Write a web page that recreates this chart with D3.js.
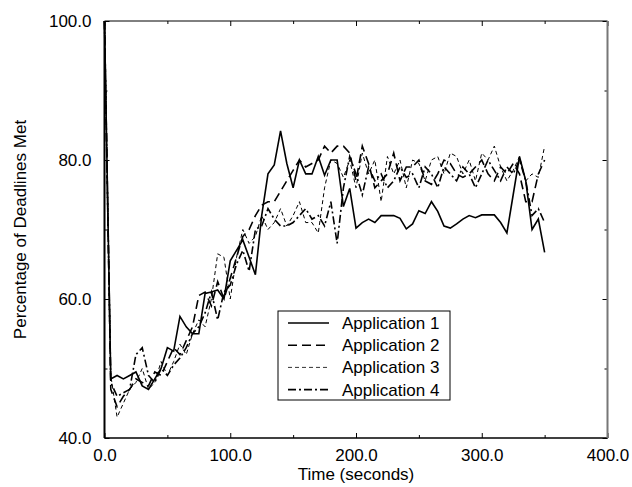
<html>
<head>
<style>
  body { margin: 0; background: #fff; }
  text { font-family: "Liberation Sans", Arial, sans-serif; font-size: 17px; fill: #000; }
  .line { fill: none; stroke: #000; }
</style>
</head>
<body>
<svg id="chart" width="632" height="487"></svg>
<script src="https://d3js.org/d3.v7.min.js"></script>
<script>
// time axis (seconds)
let times = d3.range(0, 351, 5)

let app1 = [100, 48.5, 49, 48.5, 49, 49.5, 47.5, 47, 48.5, 50,
            53, 52.5, 57.5, 56, 55, 55, 60.8, 61, 61.3, 60,
            65.5, 67, 68.5, 66, 63.5, 72, 78, 79.3, 84.2, 79.5,
            76, 80, 78, 78, 80.5, 77.8, 80, 80, 73.3, 75.9,
            70.2, 71, 71.5, 71, 72, 72, 72, 71.6, 70.1, 70.8,
            72.7, 72.3, 74, 72.6, 70.5, 70.2, 70.8, 71.5, 72, 71.7,
            72.1, 72.1, 72.1, 71, 69.5, 75, 80.5, 77, 70, 71.5, 66.7]

let app2 = [100, 47, 44.5, 46, 47, 48.5, 48, 47.5, 49.5, 49,
            51, 53, 52, 54, 56, 60.5, 61, 59, 62.5, 60,
            63, 66, 69, 70, 72, 73.5, 74, 74, 75.5, 77,
            78.5, 80, 79, 79.5, 80, 82, 81, 82, 82, 81,
            77, 82, 79.5, 76, 77, 78, 81, 77, 79, 79,
            80, 77, 76.5, 78, 80, 79.5, 78, 77.5, 78, 79,
            80, 78, 77, 79, 78, 79.5, 78, 74, 74, 78, 80]

let app3 = [100, 49, 43, 45, 47, 48, 50, 47, 48, 51,
            49, 51, 53.5, 52, 55, 57, 56, 60, 66.5, 66,
            60, 66, 70, 68, 69, 72, 70, 71, 73, 70.5,
            72, 74, 71, 71, 69.5, 76, 80, 79.5, 77.5, 80,
            76, 81, 78, 80, 74, 80.5, 78, 80, 76, 80,
            79.5, 77, 80, 80.5, 78, 81, 80.5, 78, 80, 77,
            81, 80, 82, 79, 77, 78.5, 80.5, 77, 78, 77.5, 82]

let app4 = [100, 48, 46, 46.5, 47, 52, 53, 49, 48, 50,
            49, 50.5, 51.5, 53, 55, 56, 58, 61, 57, 61,
            62, 65, 67, 64, 70, 70.5, 73, 71.5, 70.5, 70.5,
            71, 72, 73, 71.5, 72, 70.5, 74, 68, 76, 80.5,
            78, 75, 79, 77, 78, 76, 77, 79, 77.5, 78,
            76, 79, 78, 76, 79, 78, 77, 79, 78, 76,
            78, 80, 78.5, 77, 79, 78, 80, 77, 72, 73, 71]

let seriesNames = ["Application 1", "Application 2", "Application 3", "Application 4"]
let seriesValues = [app1, app2, app3, app4]

let xTicks = [0, 100, 200, 300, 400]
let yTicks = [40, 60, 80, 100]

let styles = [
  {dash: null, width: 1.6, color: "#000"},
  {dash: "9,5", width: 1.6, color: "#000"},
  {dash: "4,3", width: 1, color: "#333"},
  {dash: "8,3,2,3", width: 1.6, color: "#000"}
]

let svg = d3.select("#chart")
let plotLeft = 104.5, plotTop = 21, plotRight = 607.5, plotBottom = 438

let xScale = d3.scaleLinear().domain([0, 400]).range([plotLeft, plotRight])
let yScale = d3.scaleLinear().domain([40, 100]).range([plotBottom, plotTop])

// minor ticks (inward, all four sides)
let fmt = d3.format(".1f")
let minorX = [50, 150, 250, 350], minorY = [50, 70, 90]

svg.append("g").attr("transform", "translate(0," + plotBottom + ")")
  .call(d3.axisBottom(xScale).tickValues(minorX).tickSize(-3).tickFormat(""))
svg.append("g").attr("transform", "translate(0," + plotTop + ")")
  .call(d3.axisTop(xScale).tickValues(minorX).tickSize(-3).tickFormat(""))
svg.append("g").attr("transform", "translate(" + plotLeft + ",0)")
  .call(d3.axisLeft(yScale).tickValues(minorY).tickSize(-3).tickFormat(""))
svg.append("g").attr("transform", "translate(" + plotRight + ",0)")
  .call(d3.axisRight(yScale).tickValues(minorY).tickSize(-3).tickFormat(""))

// major ticks with labels
svg.append("g").attr("transform", "translate(0," + plotBottom + ")")
  .call(d3.axisBottom(xScale).tickValues(xTicks).tickSize(-5).tickPadding(11).tickFormat(fmt))
svg.append("g").attr("transform", "translate(0," + plotTop + ")")
  .call(d3.axisTop(xScale).tickValues(xTicks).tickSize(-5).tickFormat(""))
svg.append("g").attr("transform", "translate(" + plotLeft + ",0)")
  .call(d3.axisLeft(yScale).tickValues(yTicks).tickSize(-5).tickPadding(13).tickFormat(fmt))
svg.append("g").attr("transform", "translate(" + plotRight + ",0)")
  .call(d3.axisRight(yScale).tickValues(yTicks).tickSize(-5).tickFormat(""))

svg.selectAll(".domain").remove()
svg.selectAll(".tick line").attr("stroke", "#000")
svg.selectAll(".tick text").attr("font-size", 17).attr("font-family", "Liberation Sans, Arial, sans-serif").attr("fill", "#000")

// frame
svg.append("line").attr("x1", plotLeft).attr("x2", plotRight).attr("y1", plotTop).attr("y2", plotTop).attr("stroke", "#000").attr("stroke-width", 1)
svg.append("line").attr("x1", plotLeft).attr("x2", plotRight).attr("y1", plotBottom).attr("y2", plotBottom).attr("stroke", "#000").attr("stroke-width", 1.5)
svg.append("line").attr("x1", plotLeft).attr("x2", plotLeft).attr("y1", plotTop).attr("y2", plotBottom).attr("stroke", "#000").attr("stroke-width", 2)
svg.append("line").attr("x1", plotRight).attr("x2", plotRight).attr("y1", plotTop).attr("y2", plotBottom).attr("stroke", "#777").attr("stroke-width", 2)

// series
let valueLine = d3.line()
  .x((d, i) => xScale(times[i]))
  .y(d => yScale(d))

seriesValues.forEach((vals, i) => {
  svg.append("path")
    .datum(vals)
    .attr("class", "line")
    .attr("d", valueLine)
    .attr("stroke", styles[i].color)
    .attr("stroke-width", styles[i].width)
    .attr("stroke-dasharray", styles[i].dash)
})

// legend
let legend = svg.append("g").attr("transform", "translate(278,311)")
legend.append("rect").attr("width", 172).attr("height", 89)
  .attr("fill", "#fff").attr("stroke", "#000").attr("stroke-width", 1)
seriesNames.forEach((name, i) => {
  let y = 12 + i * 22.2
  legend.append("line").attr("x1", 10).attr("x2", 51).attr("y1", y).attr("y2", y)
    .attr("stroke", styles[i].color).attr("stroke-width", styles[i].width)
    .attr("stroke-dasharray", styles[i].dash)
  legend.append("text").attr("x", 64).attr("y", y).attr("dy", "0.35em").text(name)
})

// axis titles
svg.append("text").attr("x", (plotLeft + plotRight) / 2).attr("y", 480)
  .attr("text-anchor", "middle").text("Time (seconds)")
svg.append("text").attr("transform", "translate(26," + ((plotTop + plotBottom) / 2) + ") rotate(-90)")
  .attr("text-anchor", "middle").text("Percentage of Deadlines Met")
</script>
</body>
</html>
